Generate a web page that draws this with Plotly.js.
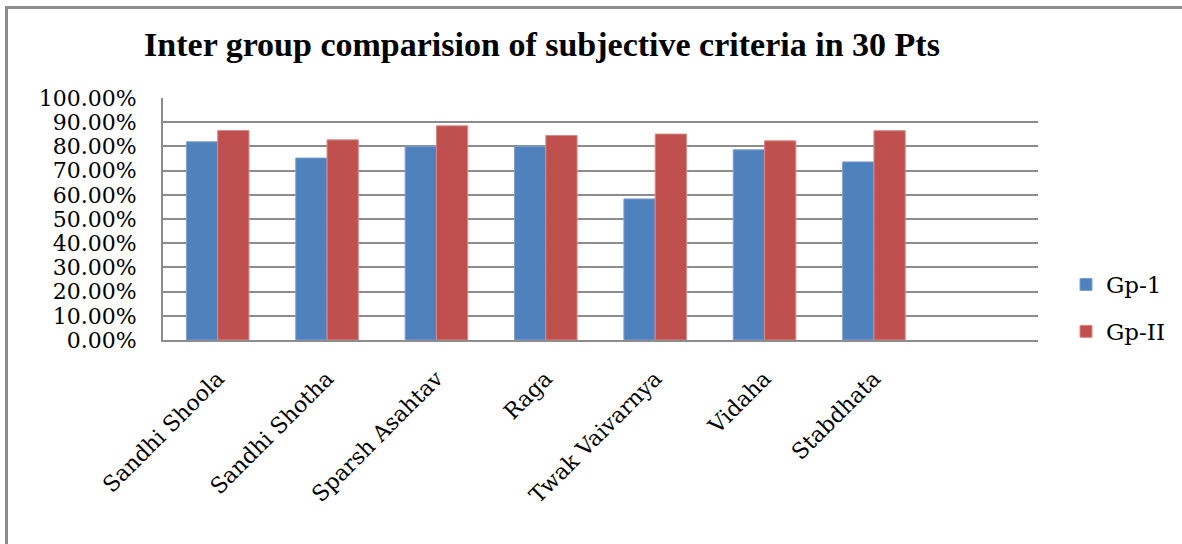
<!DOCTYPE html>
<html>
<head>
<meta charset="utf-8">
<script src="https://cdn.plot.ly/plotly-3.0.1.min.js"></script>
<style>
  html, body { margin: 0; padding: 0; background: #fff; }
  #wrap { position: relative; width: 1182px; height: 544px; overflow: hidden; }
  #chart { width: 1182px; height: 544px; }
  #frame { position: absolute; left: 5px; top: 6px; width: 1300px; height: 700px;
           border-left: 3px solid #8c8c8c; border-top: 3px solid #8c8c8c; pointer-events: none; }
</style>
</head>
<body>
<div id="wrap">
  <div id="chart"></div>
  <div id="frame"></div>
</div>
<script>
const categories = ["Sandhi Shoola", "Sandhi Shotha", "Sparsh Asahtav", "Raga", "Twak Vaivarnya", "Vidaha", "Stabdhata", " "];
const gp1 = [0.819, 0.752, 0.800, 0.800, 0.583, 0.786, 0.736, null];
const gp2 = [0.866, 0.827, 0.885, 0.845, 0.851, 0.823, 0.865, null];
const seriesNames = ["Gp-1", "Gp-II"];
const yTicks = [0, 0.1, 0.2, 0.3, 0.4, 0.5, 0.6, 0.7, 0.8, 0.9, 1.0];

const serif = "DejaVu Serif, Liberation Serif, serif";

const traces = [
  { type: "bar", name: seriesNames[0], x: categories, y: gp1, legendgroup: "a",
    marker: { color: "#4F81BD", line: { color: "#7f9fd0", width: 1 } }, hoverinfo: "skip" },
  { type: "bar", name: seriesNames[1], x: categories, y: gp2, legendgroup: "b",
    marker: { color: "#C0504D", line: { color: "#d98a88", width: 1 } }, hoverinfo: "skip" }
];

const layout = {
  width: 1182, height: 544,
  paper_bgcolor: "#ffffff", plot_bgcolor: "#ffffff",
  margin: { l: 163, r: 144, t: 98, b: 204, pad: 0 },
  title: {
    text: "Inter group comparision of subjective criteria in 30 Pts",
    font: { family: "Liberation Serif, serif", size: 34, color: "#000", weight: "bold" },
    x: 542 / 1182, xref: "container", xanchor: "center",
    y: 1 - 44 / 544, yref: "container", yanchor: "middle"
  },
  barmode: "group",
  bargap: 0.428,
  bargroupgap: 0,
  xaxis: {
    type: "category",
    tickangle: -45,
    tickfont: { family: serif, size: 22, color: "#000" },
    showgrid: false,
    showline: true, linecolor: "#8c8c8c", linewidth: 2,
    ticks: "outside", ticklen: 15, tickcolor: "rgba(0,0,0,0)",
    fixedrange: true
  },
  yaxis: {
    range: [0, 1],
    tickvals: yTicks,
    tickformat: ".2%",
    tickfont: { family: serif, size: 22, color: "#000" },
    showgrid: true, gridcolor: "#8c8c8c", gridwidth: 2,
    showline: true, linecolor: "#8c8c8c", linewidth: 2,
    zeroline: false,
    ticks: "outside", ticklen: 20, tickcolor: "rgba(0,0,0,0)",
    fixedrange: true
  },
  showlegend: true,
  legend: {
    xref: "container", yref: "container",
    x: 1066 / 1182, xanchor: "left", y: 1 - 263 / 544, yanchor: "top",
    font: { family: serif, size: 23, color: "#000" },
    tracegroupgap: 14,
    bgcolor: "rgba(0,0,0,0)",
    itemwidth: 30
  }
};

Plotly.newPlot("chart", traces, layout, { displayModeBar: false, staticPlot: true });
</script>
</body>
</html>
